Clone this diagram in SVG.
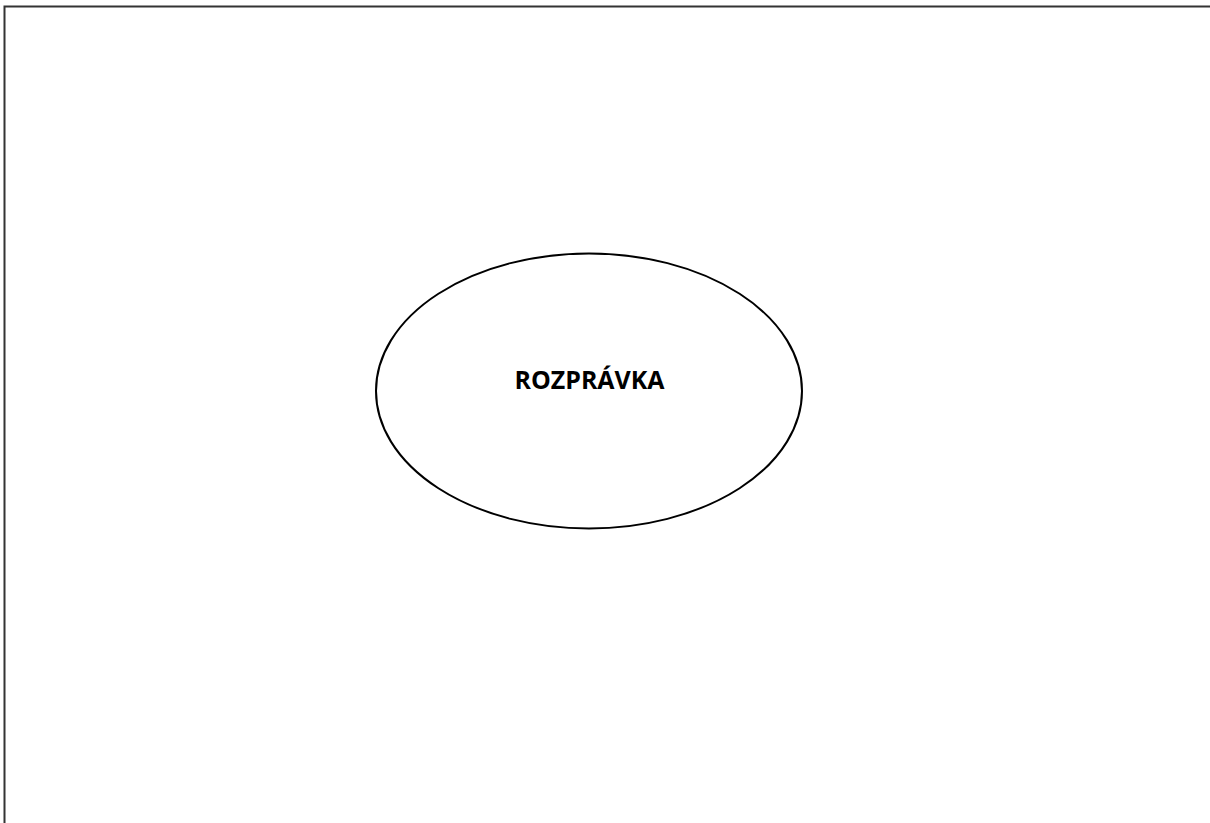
<svg xmlns="http://www.w3.org/2000/svg" width="1210" height="823" viewBox="0 0 1210 823">
<style>
.frame{fill:none;stroke:#333;stroke-width:2}
.node{fill:#fff;stroke:#000;stroke-width:2}
.label{font-family:"Open Sans","Liberation Sans",sans-serif;font-weight:bold;font-size:25px;fill:#000}
</style>
<rect width="1210" height="823" fill="#fff"/>
<path class="frame" d="M4.5,823 V6.5 H1210"/>
<g id="connectors"></g>
<g id="node-rozpravka">
<ellipse class="node" cx="589" cy="391" rx="213" ry="137.5"/>
<text class="label" x="589.5" y="389" text-anchor="middle" textLength="150" lengthAdjust="spacingAndGlyphs">ROZPRÁVKA</text>
</g>
</svg>
